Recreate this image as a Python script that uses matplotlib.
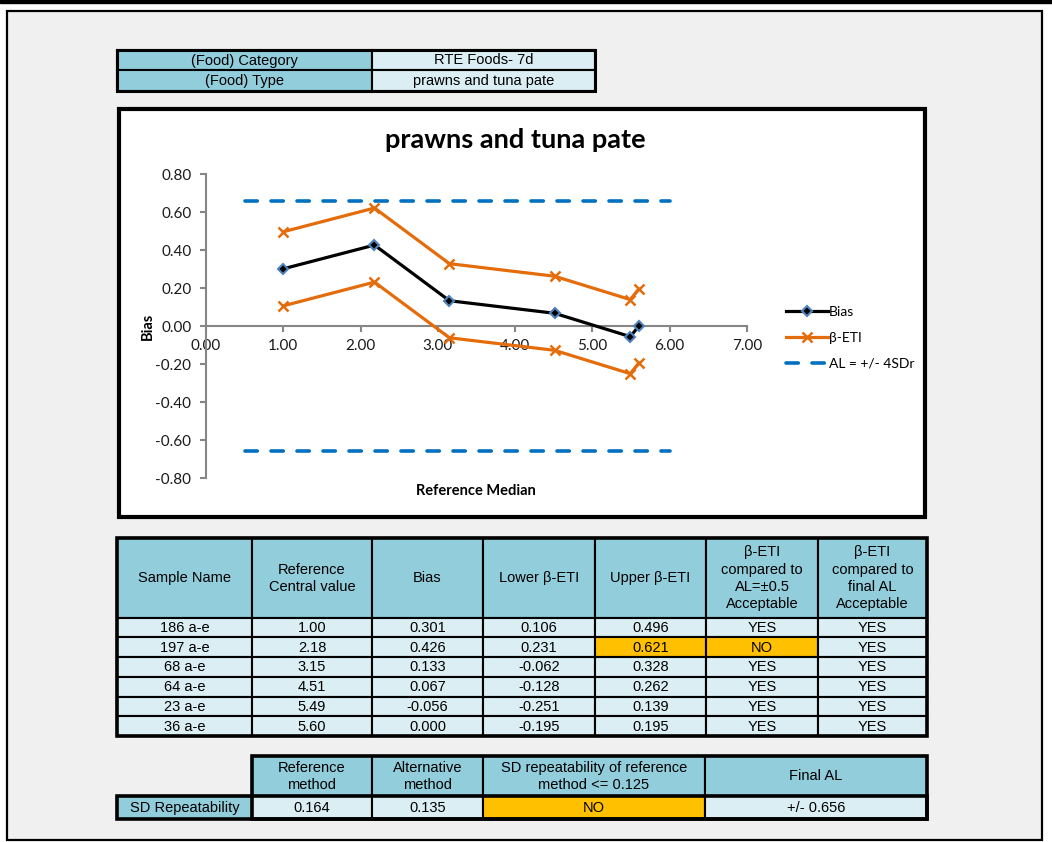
import matplotlib.pyplot as plt
from matplotlib.patches import Rectangle
from matplotlib.lines import Line2D

# Дані таблиці та графіка
sample_names = ["186 a-e", "197 a-e", "68 a-e", "64 a-e", "23 a-e", "36 a-e"]
ref_central = [1.00, 2.18, 3.15, 4.51, 5.49, 5.60]
bias = [0.301, 0.426, 0.133, 0.067, -0.056, 0.000]
lower_eti = [0.106, 0.231, -0.062, -0.128, -0.251, -0.195]
upper_eti = [0.496, 0.621, 0.328, 0.262, 0.139, 0.195]
acc_05 = ["YES", "NO", "YES", "YES", "YES", "YES"]
acc_final = ["YES", "YES", "YES", "YES", "YES", "YES"]
al_value = 0.656
al_x = [0.5, 6.0]
food_category = "RTE Foods- 7d"
food_type = "prawns and tuna pate"
sd_ref = 0.164
sd_alt = 0.135
sd_ok = "NO"

HEAD = "#92cddc"
LIGHT = "#daeef3"
WARN = "#ffc000"
ORANGE = "#e46c0a"
BLUE = "#0070c0"
TFONT = "Liberation Sans"
CFONT = "Lato"

fig = plt.figure(figsize=(10.52, 8.42), dpi=100)
bg = fig.add_axes([0, 0, 1, 1])
bg.set_xlim(0, 1052)
bg.set_ylim(842, 0)
bg.axis("off")


def cell(x0, x1, y0, y1, text, fc, size=10.5):
    bg.add_patch(Rectangle((x0, y0), x1 - x0, y1 - y0, fc=fc, ec="black", lw=1.5))
    bg.text((x0 + x1) / 2, (y0 + y1) / 2 + 0.5, text, ha="center", va="center",
            fontsize=size, family=TFONT, linespacing=1.3)


def frame(x0, x1, y0, y1, lw=2.2):
    bg.add_patch(Rectangle((x0, y0), x1 - x0, y1 - y0, fc="none", ec="black", lw=lw))


# зовнішня рамка
bg.add_patch(Rectangle((0, 0), 1052, 2.5, color="black"))
bg.add_patch(Rectangle((7, 11), 1034.5, 829, fc="#f0f0f0", ec="black", lw=1.6))

# верхня таблиця
tc = [117, 372, 595]
tr = [50, 70, 91]
cell(tc[0], tc[1], tr[0], tr[1], "(Food) Category", HEAD)
cell(tc[1], tc[2], tr[0], tr[1], food_category, LIGHT)
cell(tc[0], tc[1], tr[1], tr[2], "(Food) Type", HEAD)
cell(tc[1], tc[2], tr[1], tr[2], food_type, LIGHT)
frame(tc[0], tc[2], tr[0], tr[2])

# рамка графіка
bg.add_patch(Rectangle((119, 109), 806, 408, fc="white", ec="black", lw=3))

# основна таблиця
mc = [117, 252, 372, 483, 595, 706, 818, 927]
mr = [538, 617.5, 637.3, 657, 676.8, 696.5, 716.2, 736]
headers = ["Sample Name", "Reference\nCentral value", "Bias", "Lower β-ETI",
           "Upper β-ETI", "β-ETI\ncompared to\nAL=±0.5\nAcceptable",
           "β-ETI\ncompared to\nfinal AL\nAcceptable"]
for j, h in enumerate(headers):
    cell(mc[j], mc[j + 1], mr[0], mr[1], h, HEAD)
for i in range(len(sample_names)):
    row = [sample_names[i], f"{ref_central[i]:.2f}", f"{bias[i]:.3f}",
           f"{lower_eti[i]:.3f}", f"{upper_eti[i]:.3f}", acc_05[i], acc_final[i]]
    for j, v in enumerate(row):
        fc = LIGHT
        if j == 4 and abs(upper_eti[i]) > 0.5:
            fc = WARN
        if j == 5 and acc_05[i] == "NO":
            fc = WARN
        cell(mc[j], mc[j + 1], mr[i + 1], mr[i + 2], v, fc)
frame(mc[0], mc[-1], mr[0], mr[-1], 2.6)

# нижня таблиця
bc = [117, 252, 372, 483, 705, 927]
br = [756, 796, 819]
bh = ["Reference\nmethod", "Alternative\nmethod",
      "SD repeatability of reference\nmethod <= 0.125", "Final AL"]
for j, h in enumerate(bh):
    cell(bc[j + 1], bc[j + 2], br[0], br[1], h, HEAD)
bvals = ["SD Repeatability", f"{sd_ref:.3f}", f"{sd_alt:.3f}", sd_ok, f"+/- {al_value:.3f}"]
for j, v in enumerate(bvals):
    fc = LIGHT
    if j == 0:
        fc = HEAD
    if j == 3 and sd_ok == "NO":
        fc = WARN
    cell(bc[j], bc[j + 1], br[1], br[2], v, fc)
frame(bc[1], bc[-1], br[0], br[2], 2.6)
frame(bc[0], bc[-1], br[1], br[2], 2.6)

# графік
ax = fig.add_axes([206 / 1052, (842 - 478) / 842, (747 - 206) / 1052, (478 - 174) / 842])
ax.patch.set_alpha(0)
ax.plot(al_x, [al_value, al_value], color=BLUE, lw=2.6, dashes=(3.4, 3.8),
        dash_capstyle="round", label="AL = +/- 4SDr", zorder=2)
ax.plot(al_x, [-al_value, -al_value], color=BLUE, lw=2.6, dashes=(3.4, 3.8),
        dash_capstyle="round", zorder=2)
ax.plot(ref_central, upper_eti, color=ORANGE, lw=2.3, marker="x", ms=7, mew=1.8,
        label="β-ETI", zorder=3)
ax.plot(ref_central, lower_eti, color=ORANGE, lw=2.3, marker="x", ms=7, mew=1.8, zorder=3)
ax.plot(ref_central, bias, color="black", lw=2.3, marker="D", ms=5.5, mfc="black",
        mec="#4f81bd", mew=1.5, label="Bias", zorder=4)

ax.set_xlim(0, 7)
ax.set_ylim(-0.8, 0.8)
ax.set_xticks(range(8))
ax.set_yticks([-0.8, -0.6, -0.4, -0.2, 0, 0.2, 0.4, 0.6, 0.8])
ax.xaxis.set_major_formatter(lambda v, p: f"{v:.2f}")
ax.yaxis.set_major_formatter(lambda v, p: f"{v:.2f}")
for s in ["top", "right"]:
    ax.spines[s].set_visible(False)
ax.spines["bottom"].set_position(("data", 0))
for s in ["left", "bottom"]:
    ax.spines[s].set_color("#868686")
    ax.spines[s].set_linewidth(1.5)
ax.tick_params(axis="both", color="#868686", width=1.5, length=4.5, labelsize=11)
ax.tick_params(axis="x", pad=5)
ax.tick_params(axis="y", pad=6)
for t in ax.get_xticklabels() + ax.get_yticklabels():
    t.set_family(CFONT)
    t.set_color("#1a1a1a")

fig.text(515 / 1052, 1 - 140 / 842, "prawns and tuna pate", ha="center", va="center",
         fontsize=19.5, fontweight="bold", family=CFONT)
fig.text(476 / 1052, 1 - 491 / 842, "Reference Median", ha="center", va="center",
         fontsize=10.5, fontweight="bold", family=CFONT)
fig.text(148 / 1052, 1 - 326 / 842, "Bias", ha="center", va="center", rotation=90,
         fontsize=10.5, fontweight="bold", family=CFONT)

hs = [Line2D([], [], color="black", lw=2.3, marker="D", ms=5.5, mfc="black", mec="#4f81bd", mew=1.5),
      Line2D([], [], color=ORANGE, lw=2.3, marker="x", ms=7, mew=1.8),
      Line2D([], [], color=BLUE, lw=2.6, dashes=(3.4, 3.8), dash_capstyle="round")]
fig.legend(hs, ["Bias", "β-ETI", "AL = +/- 4SDr"], loc="center left",
           bbox_to_anchor=(779 / 1052, 1 - 338 / 842), frameon=False, borderpad=0,
           handlelength=3.0, handletextpad=0.1, labelspacing=1.0,
           prop={"family": CFONT, "size": 10})

fig.savefig("out.png", dpi=100)
